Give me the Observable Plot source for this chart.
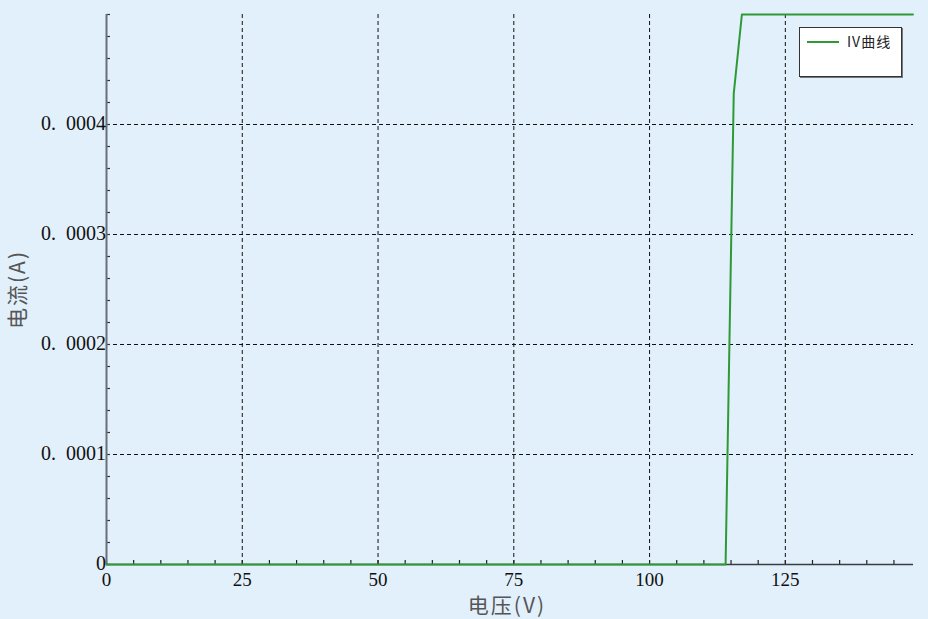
<!DOCTYPE html>
<html>
<head>
<meta charset="utf-8">
<script src="https://cdn.jsdelivr.net/npm/d3@7"></script>
<script src="https://cdn.jsdelivr.net/npm/@observablehq/plot@0.6"></script>
<style>
  html, body { margin: 0; padding: 0; background: #e1f0fb; }
  #wrap { position: relative; width: 928px; height: 619px; }
  #legend { position: absolute; left: 799px; top: 27px; width: 103px; height: 50px;
    background: #fff; border: 1px solid #333; box-shadow: 1px 1px 0 #777; box-sizing: border-box; }
  #legend .sw { position: absolute; left: 7px; top: 13px; width: 32px; height: 2px; background: #2e9a35; }
  #legend .tx { position: absolute; left: 47px; top: 3px; font: 14px "Noto Sans CJK SC", "DejaVu Sans", sans-serif; color: #222; letter-spacing: 1px; }
  .title text { letter-spacing: 2px; }
</style>
</head>
<body>
<div id="wrap"><div id="legend"><div class="sw"></div><div class="tx">IV曲线</div></div></div>
<script>
// IV curve data
const voltage = [0, 114, 115.5, 117, 148.5];
const current = [0, 0, 0.000428, 0.0005, 0.0005];
const xTicks = [0, 25, 50, 75, 100, 125];
const yTicks = [0, 0.0001, 0.0002, 0.0003, 0.0004];
const xLabel = "电压(V)";
const yLabel = "电流(A)";
const seriesName = "IV曲线";

const data = voltage.map((v, i) => ({v, i: current[i]}));
const xMinor = d3.range(0, 150, 5);
const yMinor = d3.range(0, 0.00050001, 0.00002);

const numFont = "Liberation Serif, DejaVu Serif, serif";
const fmtY = d => d === 0 ? "0" : d3.format(".4f")(d).replace(".", ".\u2002");

const chart = Plot.plot({
  width: 928,
  height: 619,
  marginLeft: 106,
  marginRight: 15,
  marginTop: 14,
  marginBottom: 55,
  style: {background: "transparent", fontFamily: numFont},
  x: {domain: [0, 148.6], axis: null},
  y: {domain: [0, 0.0005], axis: null},
  marks: [
    // grid
    Plot.ruleX(xTicks.filter(d => d > 0), {x: d => d, stroke: "#111", strokeWidth: 1, strokeDasharray: "4,3"}),
    Plot.ruleY(yTicks.filter(d => d > 0), {y: d => d, stroke: "#111", strokeWidth: 1, strokeDasharray: "4,3"}),
    // minor ticks
    Plot.ruleX(xMinor, {x: d => d, y1: 0, y2: 0, insetTop: -4, stroke: "#222", strokeWidth: 1.2}),
    Plot.ruleY(yMinor, {y: d => d, x1: 0, x2: 0, insetRight: -4, stroke: "#333", strokeWidth: 1.2}),
    // axis lines
    Plot.ruleX([0], {stroke: "#6b6f78", strokeWidth: 2}),
    Plot.ruleY([0], {stroke: "#3a3d44", strokeWidth: 1.6}),
    // curve
    Plot.line(data, {x: "v", y: "i", stroke: "#2e9a35", strokeWidth: 2}),
    // tick labels
    Plot.text(xTicks, {x: d => d, y: 0, dy: 15, text: d => String(d), fontSize: 19, fill: "#111", fontFamily: numFont}),
    Plot.text(yTicks, {x: 0, y: d => d, dx: d => d === 0 ? -10 : -6, dy: d => d === 0 ? -3 : 0, textAnchor: "end", text: fmtY,
      fontSize: 20, fill: "#111", fontFamily: numFont}),
    // axis titles
    Plot.text([xLabel], {frameAnchor: "bottom", dx: -3, dy: 48, text: d => d, fontSize: 21, fill: "#555",
      fontFamily: "Noto Sans CJK SC, sans-serif", className: "title"}),
    Plot.text([yLabel], {frameAnchor: "left", textAnchor: "middle", dx: -88, rotate: -90, text: d => d, fontSize: 21, fill: "#555",
      fontFamily: "Noto Sans CJK SC, sans-serif", className: "title"})
  ]
});
document.getElementById("wrap").prepend(chart);
chart.style.position = "absolute";
chart.style.left = "0px";
chart.style.top = "0px";
</script>
</body>
</html>
